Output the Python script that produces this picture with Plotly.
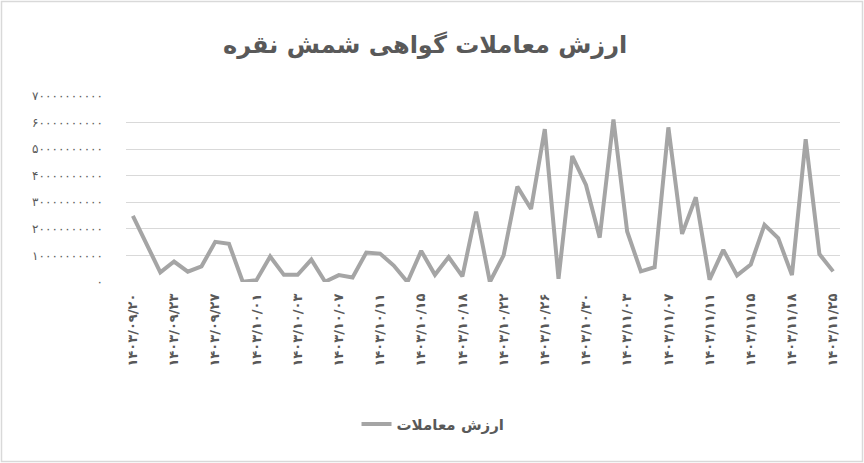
import plotly.graph_objects as go

FA = str.maketrans("0123456789", "۰۱۲۳۴۵۶۷۸۹")

title_text = "ارزش معاملات گواهی شمش نقره"
series_name = "ارزش معاملات"

# trading value (billion rial units, scaled below)
values_bn = [24.9, 14.4, 3.6, 7.7, 3.9, 5.9, 15.1, 14.4, 0.1, 0.7,
             9.6, 2.7, 2.7, 8.4, 0.1, 2.6, 1.7, 11.1, 10.7, 6.2,
             0.0, 11.7, 2.7, 9.4, 2.1, 26.5, 0.0, 10.0, 35.9, 27.5,
             57.5, 1.2, 47.4, 36.5, 16.7, 61.2, 19.0, 4.0, 5.6, 58.2,
             18.1, 31.9, 0.9, 12.1, 2.5, 6.6, 21.5, 16.5, 2.6, 53.7,
             10.5, 4.0]
values = [v * 1e9 for v in values_bn]
x_index = list(range(len(values)))

# date labels shown on the category axis (every third trading day)
date_labels = ["1403/09/20", "1403/09/23", "1403/09/27", "1403/10/01", "1403/10/03",
               "1403/10/07", "1403/10/11", "1403/10/15", "1403/10/18", "1403/10/22",
               "1403/10/26", "1403/10/30", "1403/11/03", "1403/11/07", "1403/11/11",
               "1403/11/15", "1403/11/18", "1403/11/25"]
date_ticks = list(range(0, len(values), 3))
date_text = [d.translate(FA) for d in date_labels]

y_ticks = [0, 1e10, 2e10, 3e10, 4e10, 5e10, 6e10, 7e10]
y_text = [str(int(v)).translate(FA) for v in y_ticks]

FONT = "DejaVu Sans"
TXT = "#595959"

fig = go.Figure()
fig.add_trace(go.Scatter(
    x=x_index, y=values, mode="lines", name=series_name,
    line=dict(color="#a5a5a5", width=4), showlegend=True,
))

fig.update_layout(
    width=864, height=463, autosize=False,
    margin=dict(l=126, r=24, t=96, b=181),
    paper_bgcolor="white", plot_bgcolor="white",
    font=dict(family=FONT, color=TXT, size=12),
    title=dict(text="<b>" + title_text + "</b>", x=0.492, xref="container", xanchor="center",
               y=1 - 45 / 463, yref="container", yanchor="middle",
               font=dict(family=FONT, size=24, color=TXT)),
    xaxis=dict(range=[-0.5, len(values) - 0.5], tickvals=date_ticks, ticktext=date_text,
               tickangle=-90, showgrid=False, zeroline=False, showline=False,
               ticks="", automargin=False,
               tickfont=dict(family=FONT, size=13, color=TXT, weight="bold"),
               ticklabelstandoff=8),
    yaxis=dict(range=[0, 7e10], tickvals=y_ticks, ticktext=y_text,
               showgrid=True, gridcolor="#d9d9d9", gridwidth=1,
               zeroline=False, showline=False, ticks="", automargin=False,
               tickfont=dict(family=FONT, size=12, color=TXT),
               ticklabelstandoff=22),
    legend=dict(orientation="h", x=0.43, xanchor="center", y=-0.765, yanchor="middle",
                font=dict(family=FONT, size=15, color=TXT, weight="bold")),
    shapes=[dict(type="rect", xref="paper", yref="paper",
                 x0=(1.5 - 126) / 714, x1=(862.5 - 126) / 714,
                 y0=(282 - 461.5) / 186, y1=(282 - 1.5) / 186,
                 line=dict(color="#d9d9d9", width=1.5), fillcolor="rgba(0,0,0,0)",
                 layer="above")],
)

fig.write_html("out.html", config={"displayModeBar": False},
               post_script="document.body.style.margin='0';document.body.style.overflow='hidden';")
